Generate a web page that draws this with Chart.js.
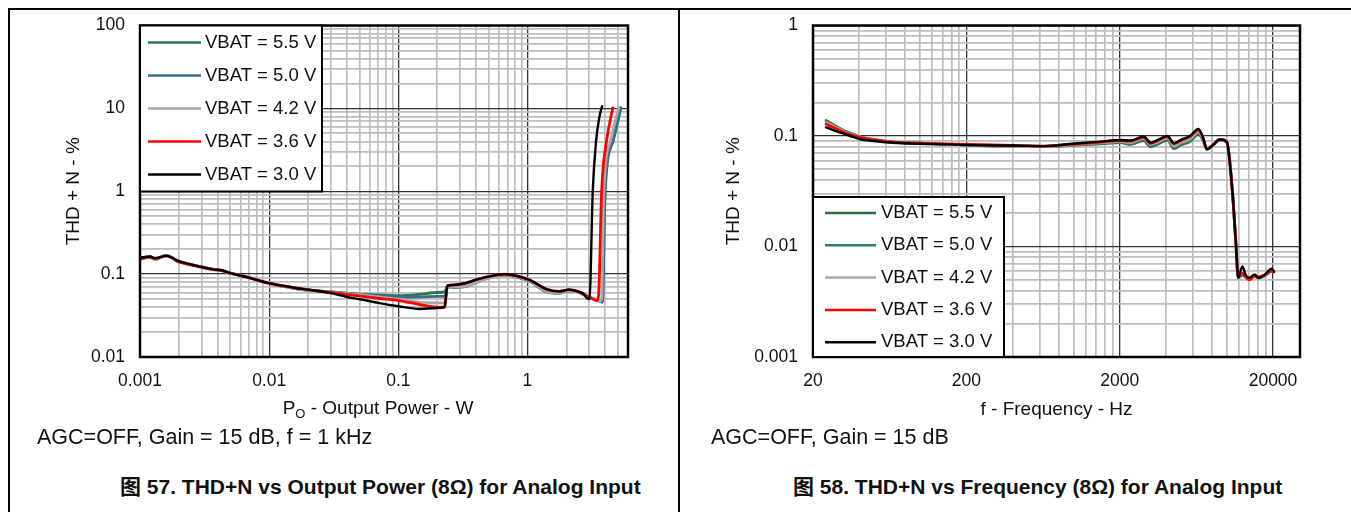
<!DOCTYPE html>
<html>
<head>
<meta charset="utf-8">
<script src="https://cdn.jsdelivr.net/npm/chart.js@4.4.1/dist/chart.umd.min.js"></script>
<style>
    body { margin: 0; background: #fff; font-family: "Liberation Sans", Arial, "Noto Sans CJK SC", sans-serif; }
    #page { position: relative; width: 1351px; height: 512px; overflow: hidden; }
    .rule { position: absolute; background: #000; }
    canvas { position: absolute; }
    .note { position: absolute; font-size: 21.5px; color: #111; white-space: nowrap; line-height: 1; }
    .caption { position: absolute; font-size: 21px; font-weight: bold; color: #111; white-space: nowrap; line-height: 1; }
</style>
</head>
<body>
<div id="page">
    <canvas id="powerChart" width="668" height="430" style="left:10px; top:0px;"></canvas>
    <canvas id="freqChart" width="660" height="430" style="left:681px; top:0px;"></canvas>

    <div class="rule" style="left:8px; top:8px; width:1343px; height:2px;"></div>
    <div class="rule" style="left:8px; top:8px; width:2px; height:504px;"></div>
    <div class="rule" style="left:678px; top:8px; width:2px; height:504px;"></div>

    <div class="note" style="left:37px; top:427px;">AGC=OFF, Gain = 15 dB, f = 1 kHz</div>
    <div class="note" style="left:711px; top:427px;">AGC=OFF, Gain = 15 dB</div>
    <div class="caption" style="left:120px; top:476px;">图 57. THD+N vs Output Power (8Ω) for Analog Input</div>
    <div class="caption" style="left:793px; top:476px;">图 58. THD+N vs Frequency (8Ω) for Analog Input</div>
</div>

<script>
// Series names, shared by both charts
const seriesLabels = ["VBAT = 5.5 V", "VBAT = 5.0 V", "VBAT = 4.2 V", "VBAT = 3.6 V", "VBAT = 3.0 V"];
const powerColors = ["#2f7450", "#3a6d8a", "#a9a9a9", "#ff0000", "#000000"];
const freqColors = ["#2c6b48", "#2f7e57", "#a9a9a9", "#ff0000", "#000000"];

// ---- Figure 57: THD+N vs output power ----
const powerTicks = [0.001, 0.01, 0.1, 1];
const powerTickLabels = ["0.001", "0.01", "0.1", "1"];
const powerMax = 6;
const thdTicksPower = [0.01, 0.1, 1, 10, 100];
const thdTickLabelsPower = ["0.01", "0.1", "1", "10", "100"];

// common power steps (W) up to the clipping knee
const outputPowerW = [0.001, 0.0012, 0.0013, 0.0016, 0.002, 0.0025, 0.003, 0.0037, 0.0042, 0.005, 0.0067,
    0.01, 0.013, 0.016, 0.02, 0.03, 0.04, 0.053, 0.07, 0.1, 0.146, 0.2, 0.228, 0.24, 0.27, 0.32, 0.45,
    0.67, 0.85, 1.04, 1.4, 1.77, 2.1, 2.45, 2.7];

const thd55 = [0.156, 0.162, 0.15, 0.168, 0.142, 0.13, 0.122, 0.114, 0.111, 0.103, 0.093,
    0.077, 0.071, 0.067, 0.064, 0.061, 0.059, 0.057, 0.056, 0.055, 0.057, 0.06, 0.061, 0.072, 0.071, 0.073, 0.087,
    0.098, 0.092, 0.083, 0.062, 0.059, 0.063, 0.061, 0.057];
const thd50 = [0.156, 0.162, 0.151, 0.168, 0.142, 0.13, 0.122, 0.114, 0.111, 0.103, 0.093,
    0.077, 0.071, 0.067, 0.064, 0.061, 0.058, 0.057, 0.055, 0.053, 0.053, 0.054, 0.054, 0.07, 0.069, 0.07, 0.085,
    0.097, 0.091, 0.082, 0.061, 0.059, 0.063, 0.061, 0.057];
const thd42 = [0.156, 0.162, 0.15, 0.167, 0.142, 0.13, 0.122, 0.114, 0.111, 0.103, 0.093,
    0.077, 0.071, 0.067, 0.064, 0.061, 0.058, 0.056, 0.053, 0.05, 0.046, 0.045, 0.045, 0.07, 0.07, 0.071, 0.085,
    0.098, 0.092, 0.083, 0.062, 0.059, 0.063, 0.061, 0.057];
const thd36 = [0.152, 0.16, 0.156, 0.166, 0.14, 0.129, 0.121, 0.113, 0.112, 0.103, 0.092,
    0.078, 0.072, 0.068, 0.065, 0.06, 0.057, 0.054, 0.051, 0.048, 0.043, 0.04, 0.04, 0.073, 0.074, 0.077, 0.09,
    0.1, 0.094, 0.085, 0.066, 0.062, 0.065, 0.062, 0.058];
const thd30 = [0.158, 0.163, 0.155, 0.166, 0.143, 0.13, 0.122, 0.114, 0.112, 0.103, 0.092,
    0.078, 0.072, 0.068, 0.065, 0.059, 0.053, 0.049, 0.045, 0.041, 0.038, 0.039, 0.04, 0.072, 0.074, 0.077, 0.09,
    0.1, 0.094, 0.085, 0.066, 0.062, 0.065, 0.062, 0.058];

// clipping tails
const tailPower55 = [2.9, 3.3, 3.6, 3.8, 4.0, 4.6, 5.3];
const tailThd55 = [0.054, 0.05, 0.047, 0.046, 1.0, 4.1, 10.5];
const tailPower50 = [2.9, 3.3, 3.6, 3.8, 3.95, 4.6, 5.3];
const tailThd50 = [0.054, 0.05, 0.047, 0.046, 1.0, 4.1, 10.5];
const tailPower42 = [2.9, 3.3, 3.6, 3.75, 3.9, 4.4, 5.1];
const tailThd42 = [0.054, 0.05, 0.047, 0.05, 1.0, 4.1, 10.5];
const tailPower36 = [2.9, 3.2, 3.45, 3.55, 3.75, 4.1, 4.6];
const tailThd36 = [0.054, 0.05, 0.048, 0.055, 1.0, 4.1, 10.5];
const tailPower30 = [2.9, 3.02, 3.2, 3.4, 3.6, 3.8];
const tailThd30 = [0.051, 0.05, 1.0, 4.1, 7.8, 10.9];

// ---- Figure 58: THD+N vs frequency ----
const freqTicks = [20, 200, 2000, 20000];
const freqTickLabels = ["20", "200", "2000", "20000"];
const freqMax = 30000;
const thdTicksFreq = [0.001, 0.01, 0.1, 1];
const thdTickLabelsFreq = ["0.001", "0.01", "0.1", "1"];

const freqHz = [24, 27, 31, 35, 40, 50, 66, 100, 150, 200, 300, 400, 640, 1060, 1500, 2025, 2350, 2870, 3180,
    3600, 4100, 4520, 5000, 5740, 6530, 7030, 7400, 8200, 9030, 10000, 10900, 11460, 11870, 12600, 13300,
    14000, 15200, 16000, 17500, 19600, 20500];

const thdF55 = [0.14, 0.127, 0.114, 0.106, 0.099, 0.093, 0.088, 0.086, 0.084, 0.083, 0.081, 0.081, 0.08, 0.083,
    0.085, 0.087, 0.084, 0.091, 0.08, 0.085, 0.092, 0.077, 0.083, 0.089, 0.104, 0.09, 0.076, 0.084, 0.093, 0.088,
    0.03, 0.0105, 0.0052, 0.0055, 0.0053, 0.0051, 0.0054, 0.0052, 0.0054, 0.006, 0.0059];
const thdF50 = [0.137, 0.125, 0.113, 0.105, 0.098, 0.092, 0.088, 0.086, 0.084, 0.083, 0.082, 0.081, 0.08, 0.083,
    0.086, 0.088, 0.085, 0.093, 0.082, 0.087, 0.094, 0.079, 0.085, 0.091, 0.106, 0.091, 0.076, 0.084, 0.093, 0.088,
    0.03, 0.0105, 0.0052, 0.0055, 0.0053, 0.0051, 0.0054, 0.0052, 0.0054, 0.006, 0.0059];
const thdF42 = [0.134, 0.123, 0.112, 0.104, 0.098, 0.092, 0.088, 0.086, 0.084, 0.083, 0.082, 0.081, 0.08, 0.084,
    0.087, 0.089, 0.087, 0.095, 0.084, 0.089, 0.096, 0.081, 0.087, 0.094, 0.109, 0.092, 0.076, 0.084, 0.093, 0.088,
    0.03, 0.0105, 0.0052, 0.0056, 0.0053, 0.0051, 0.0054, 0.0052, 0.0054, 0.006, 0.0059];
const thdF36 = [0.13, 0.12, 0.11, 0.103, 0.097, 0.092, 0.088, 0.086, 0.085, 0.084, 0.083, 0.082, 0.081, 0.085,
    0.088, 0.091, 0.09, 0.097, 0.086, 0.092, 0.099, 0.085, 0.091, 0.099, 0.113, 0.094, 0.076, 0.084, 0.093, 0.088,
    0.03, 0.0105, 0.0053, 0.0057, 0.0053, 0.005, 0.0054, 0.0053, 0.0055, 0.006, 0.0059];
const thdF30 = [0.121, 0.113, 0.106, 0.1, 0.094, 0.09, 0.087, 0.085, 0.084, 0.083, 0.082, 0.082, 0.081, 0.086,
    0.089, 0.092, 0.091, 0.099, 0.087, 0.093, 0.1, 0.086, 0.092, 0.1, 0.116, 0.095, 0.076, 0.084, 0.093, 0.088,
    0.03, 0.0107, 0.0052, 0.0066, 0.0055, 0.0052, 0.0056, 0.0052, 0.0055, 0.0063, 0.0058];

// multiples inside each decade used for the minor grid
const decadeSteps = [1, 2, 3, 4, 5, 6, 7, 8, 9];

const FONT = "'Liberation Sans', Arial, sans-serif";
Chart.defaults.font.family = FONT;
Chart.defaults.color = "#111";

function toPoints(xs, ys) {
    return xs.map((x, i) => ({ x: x, y: ys[i] }));
}

function isMajor(value, majors) {
    return majors.some((m) => Math.abs(value / m - 1) < 1e-6);
}

function gridValues(majors, max) {
    return majors
        .flatMap((m) => decadeSteps.map((k) => m * k))
        .filter((v) => v <= max * 1.0001);
}

function logAxis(majors, labels, max, fitSize, horizontal) {
    return {
        type: "logarithmic",
        min: majors[0],
        max: max,
        afterBuildTicks: (scale) => {
            scale.ticks = gridValues(majors, max).map((v) => ({ value: v }));
        },
        afterFit: (scale) => {
            if (horizontal) scale.height = fitSize;
            else scale.width = fitSize;
        },
        ticks: {
            autoSkip: false,
            maxRotation: 0,
            padding: horizontal ? 14 : 15,
            font: { size: 17.5 },
            color: "#111",
            callback: (value) => {
                const idx = majors.findIndex((m) => Math.abs(value / m - 1) < 1e-6);
                return idx >= 0 ? labels[idx] : "";
            },
        },
        grid: {
            drawTicks: false,
            color: (ctx) => (ctx.tick && isMajor(ctx.tick.value, majors) ? "#333333" : "#bdbdbd"),
            lineWidth: (ctx) => (ctx.tick && isMajor(ctx.tick.value, majors) ? 1.3 : 1.7),
        },
        border: { display: false },
    };
}

function makeDatasets(pointSets, colors) {
    return pointSets.map((points, i) => ({
        label: seriesLabels[i],
        data: points,
        borderColor: colors[i],
        borderWidth: i === 4 ? 2.4 : 2.8,
        pointRadius: 0,
        fill: false,
        cubicInterpolationMode: "monotone",
        order: 5 - i,
    }));
}

// plot frame and the boxed legend drawn inside the plot
const frameAndLegend = {
    id: "frameAndLegend",
    afterDraw(chart, args, opts) {
        const { ctx, chartArea: a } = chart;
        ctx.save();
        ctx.lineWidth = 2.5;
        ctx.strokeStyle = "#000";
        ctx.strokeRect(a.left, a.top, a.right - a.left, a.bottom - a.top);

        const bx = a.left;
        const by = opts.atBottom ? a.bottom - opts.height : a.top;
        ctx.fillStyle = "#fff";
        ctx.fillRect(bx, by, opts.width, opts.height);
        ctx.lineWidth = 2;
        ctx.strokeRect(bx, by, opts.width, opts.height);

        ctx.font = "18.5px " + FONT;
        ctx.textBaseline = "middle";
        chart.data.datasets.forEach((ds, i) => {
            const y = by + opts.firstRow + i * opts.rowGap;
            ctx.strokeStyle = ds.borderColor;
            ctx.lineWidth = 2.5;
            ctx.beginPath();
            ctx.moveTo(bx + opts.lineStart, y);
            ctx.lineTo(bx + opts.lineEnd, y);
            ctx.stroke();
            ctx.fillStyle = "#111";
            ctx.fillText(ds.label, bx + opts.textX, y);
        });
        ctx.restore();
    },
};

// x title with the subscript "O"
const powerAxisTitle = {
    id: "powerAxisTitle",
    afterDraw(chart) {
        const { ctx, chartArea: a } = chart;
        const y = chart.scales.x.bottom - 21;
        const big = "19px " + FONT;
        const small = "13px " + FONT;
        const rest = " - Output Power - W";
        ctx.save();
        ctx.fillStyle = "#111";
        ctx.textBaseline = "middle";
        ctx.font = big;
        const wP = ctx.measureText("P").width;
        const wRest = ctx.measureText(rest).width;
        ctx.font = small;
        const wO = ctx.measureText("O").width;
        let x = (a.left + a.right) / 2 - 6 - (wP + wO + wRest) / 2;
        ctx.font = big;
        ctx.fillText("P", x, y);
        x += wP;
        ctx.font = small;
        ctx.fillText("O", x, y + 5);
        x += wO;
        ctx.font = big;
        ctx.fillText(rest, x, y);
        ctx.restore();
    },
};

function yTitle(padTop) {
    return { display: true, text: "THD + N - %", font: { size: 19 }, color: "#111", padding: { top: padTop } };
}

function createPowerChart() {
    const pointSets = [
        toPoints(outputPowerW.concat(tailPower55), thd55.concat(tailThd55)),
        toPoints(outputPowerW.concat(tailPower50), thd50.concat(tailThd50)),
        toPoints(outputPowerW.concat(tailPower42), thd42.concat(tailThd42)),
        toPoints(outputPowerW.concat(tailPower36), thd36.concat(tailThd36)),
        toPoints(outputPowerW.concat(tailPower30), thd30.concat(tailThd30)),
    ];
    const xAxis = logAxis(powerTicks, powerTickLabels, powerMax, 73, true);
    const yAxis = logAxis(thdTicksPower, thdTickLabelsPower, 100, 130, false);
    yAxis.title = yTitle(52);

    new Chart(document.getElementById("powerChart"), {
        type: "line",
        data: { datasets: makeDatasets(pointSets, powerColors) },
        options: {
            responsive: false,
            animation: false,
            layout: { padding: { top: 5, right: 50, left: 0, bottom: 0 } },
            scales: { x: xAxis, y: yAxis },
            plugins: {
                legend: { display: false },
                tooltip: { enabled: false },
                frameAndLegend: {
                    atBottom: false, width: 182, height: 166, firstRow: 17, rowGap: 33,
                    lineStart: 8, lineEnd: 61, textX: 65,
                },
            },
        },
        plugins: [frameAndLegend, powerAxisTitle],
    });
}

function createFrequencyChart() {
    const pointSets = [thdF55, thdF50, thdF42, thdF36, thdF30].map((ys) => toPoints(freqHz, ys));
    const xAxis = logAxis(freqTicks, freqTickLabels, freqMax, 73, true);
    xAxis.title = { display: true, text: "f - Frequency - Hz", font: { size: 19 }, color: "#111", padding: { bottom: 9 } };
    const yAxis = logAxis(thdTicksFreq, thdTickLabelsFreq, 1, 132, false);
    yAxis.title = yTitle(41);

    new Chart(document.getElementById("freqChart"), {
        type: "line",
        data: { datasets: makeDatasets(pointSets, freqColors) },
        options: {
            responsive: false,
            animation: false,
            layout: { padding: { top: 5, right: 41, left: 0, bottom: 0 } },
            scales: { x: xAxis, y: yAxis },
            plugins: {
                legend: { display: false },
                tooltip: { enabled: false },
                frameAndLegend: {
                    atBottom: true, width: 191, height: 160, firstRow: 16, rowGap: 32.3,
                    lineStart: 12, lineEnd: 63, textX: 68,
                },
            },
        },
        plugins: [frameAndLegend],
    });
}

createPowerChart();
createFrequencyChart();
</script>
</body>
</html>
